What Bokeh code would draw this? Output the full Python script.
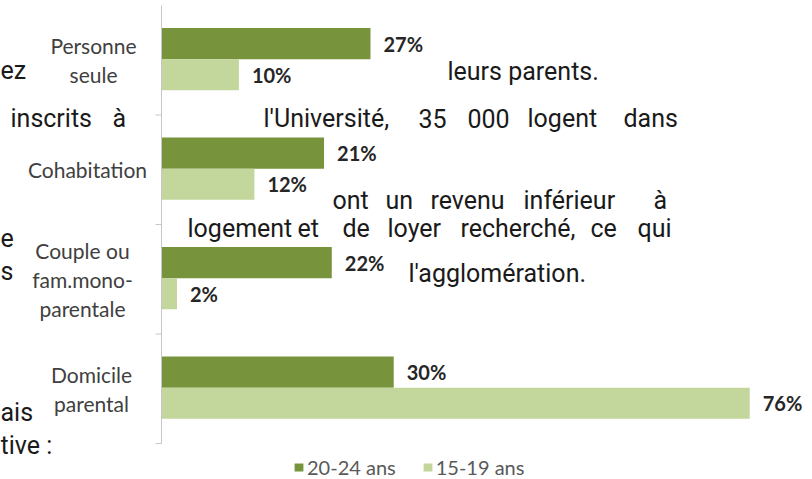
import numpy as np
from bokeh.plotting import figure
from bokeh.models import ColumnDataSource, Range1d, Label, Legend, LegendItem
from bokeh.core.properties import value
from bokeh.embed import file_html
from bokeh.resources import INLINE

# ---------------- data ----------------
categories = ["Personne\nseule", "Cohabitation", "Couple ou\nfam.mono-\nparentale", "Domicile\nparental"]
series_names = ["20-24 ans", "15-19 ans"]
values_20_24 = [27, 21, 22, 30]
values_15_19 = [10, 12, 2, 76]

# background document text fragments visible around the chart
doc_words = ["ez", "inscrits", "à", "e", "s", "ais", "tive :",
             "leurs parents.",
             "l'Université,", "35", "000", "logent", "dans",
             "ont", "un", "revenu", "inférieur", "à",
             "logement", "et", "de", "loyer", "recherché,", "ce", "qui",
             "l'agglomération."]

# ---------------- layout / style ----------------
W, H = 812, 479
X0_PX = 161          # pixel of 0 %
PX_PER_PCT = 7.74
Y0_PX = 5            # top of first category band
PX_PER_CAT = 109.5
DARK = "#77933c"
LIGHT = "#c3d69b"

doc_pos = [(0, 70), (10, 118), (112, 118), (0, 237), (0, 271), (0, 412), (0, 445),
           (447, 71),
           (263, 118), (418, 118), (467, 118), (527, 118), (623, 118),
           (332, 200), (385, 200), (430, 200), (523, 200), (653, 200),
           (187, 228), (297, 228), (342, 228), (387, 228), (460, 228), (590, 228), (637, 228),
           (408, 273)]

p = figure(width=W, height=H,
           x_range=Range1d(-X0_PX / PX_PER_PCT, (W - X0_PX) / PX_PER_PCT),
           y_range=Range1d((H - Y0_PX) / PX_PER_CAT, -Y0_PX / PX_PER_CAT),
           output_backend="svg", toolbar_location=None,
           x_axis_location=None, y_axis_location=None,
           min_border=0, outline_line_color=None)
p.grid.visible = False
p.background_fill_color = "white"

# background text
for word, (xp, yp) in zip(doc_words, doc_pos):
    p.add_layout(Label(x=xp, y=H - yp, x_units="screen", y_units="screen", text=word,
                       text_font="Roboto", text_font_size="25px", text_color="#1a1a1a",
                       text_baseline="alphabetic", text_align="left"))

n = len(categories)
idx = np.arange(n)
bar_h = 0.285
shift = -0.01

src = ColumnDataSource(dict(
    cat=categories,
    y_dark=idx + 0.5 + shift - bar_h / 2,
    y_light=idx + 0.5 + shift + bar_h / 2,
    y_mid=idx + 0.5,
    v1=values_20_24,
    v2=values_15_19,
    t1=[f"{v}%" for v in values_20_24],
    t2=[f"{v}%" for v in values_15_19],
    dx=[-68, -74, -79, -70],
))

r1 = p.hbar(y="y_dark", left=0, right="v1", height=bar_h, fill_color=DARK, line_color=None, source=src)
r2 = p.hbar(y="y_light", left=0, right="v2", height=bar_h, fill_color=LIGHT, line_color=None, source=src)

# value labels
for col_x, col_y, col_t in (("v1", "y_dark", "t1"), ("v2", "y_light", "t2")):
    p.text(x=col_x, y=col_y, text=col_t, source=src, x_offset=13,
           text_baseline="middle", text_align="left",
           text_font=value("Lato"), text_font_style="bold",
           text_font_size="20px", text_color="#262626")

# category labels
p.text(x=0, y="y_mid", text="cat", source=src, x_offset="dx",
       text_baseline="middle", text_align="center", text_line_height=1.15,
       text_font=value("Lato"), text_font_size="21px", text_color="#404040")

# vertical axis line and ticks at category boundaries
p.segment(x0=[0], y0=[0], x1=[0], y1=[n], line_color="#c6c6c6", line_width=1)
bounds = np.arange(1, n + 1)
p.segment(x0=np.full(n, -6 / PX_PER_PCT), y0=bounds, x1=np.zeros(n), y1=bounds,
          line_color="#c6c6c6", line_width=1)

legend = Legend(items=[LegendItem(label=series_names[0], renderers=[r1]),
                       LegendItem(label=series_names[1], renderers=[r2])],
                orientation="horizontal", location=(293, 0),
                background_fill_alpha=0, border_line_color=None,
                padding=0, margin=0, spacing=26,
                glyph_width=11, glyph_height=10, label_standoff=3,
                label_text_font="Lato", label_text_font_size="20px",
                label_text_color="#595959", label_height=20)
p.add_layout(legend)

open("out.html", "w").write(file_html(p, INLINE))
